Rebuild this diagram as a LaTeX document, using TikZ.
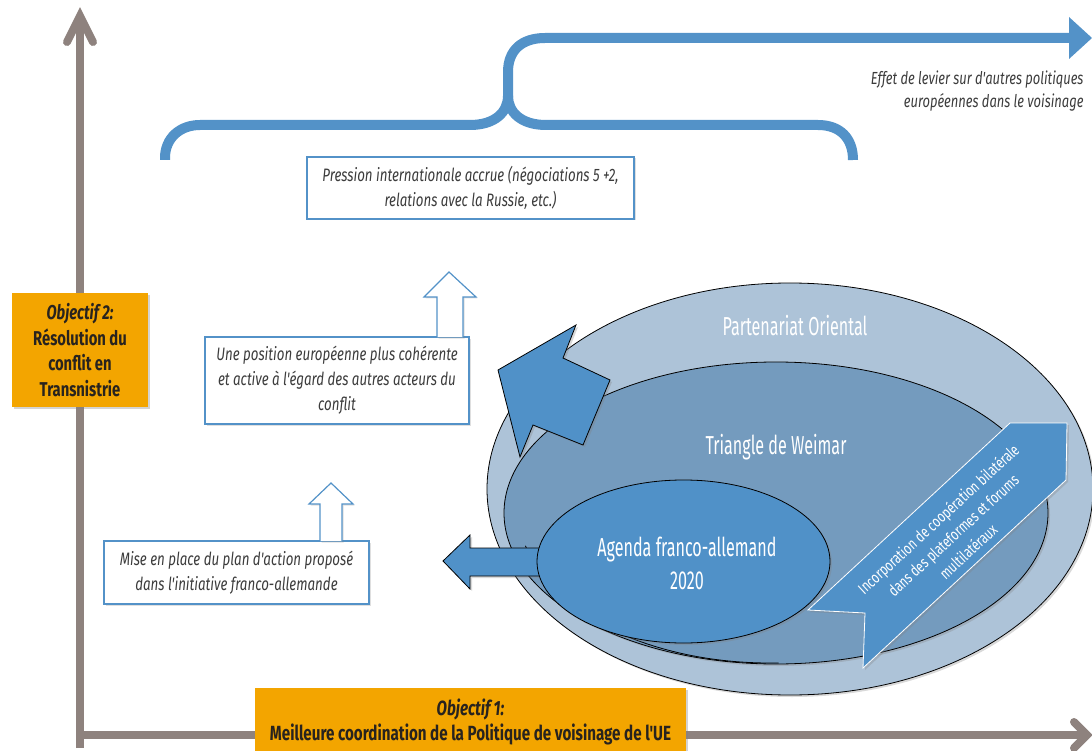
\documentclass[tikz,border=0pt]{standalone}
\usepackage{fontspec}
\setmainfont{Fira Sans}
\newfontfamily\din[FakeStretch=0.74]{Fira Sans}
\newfontfamily\dinn[FakeStretch=0.62]{Fira Sans}
\usetikzlibrary{shapes.geometric,shadows}
\definecolor{axisgrey}{RGB}{142,130,126}
\definecolor{braceblue}{RGB}{83,146,200}
\definecolor{orangebox}{RGB}{243,165,0}
\definecolor{outerell}{RGB}{173,195,216}
\definecolor{midell}{RGB}{116,155,190}
\definecolor{innerell}{RGB}{80,145,200}
\definecolor{textgrey}{RGB}{60,60,60}
\definecolor{objtext}{RGB}{40,35,30}
\begin{document}
\begin{tikzpicture}[x=1pt,y=-1pt,
  axisline/.style={axisgrey, line width=8pt, line cap=round, line join=miter},
  bracepath/.style={braceblue, line width=10pt},
  objbox/.style={fill=orangebox, text=objtext, align=center, inner sep=0pt,
     drop shadow={opacity=0.35, shadow xshift=2pt, shadow yshift=-2pt}},
  txtbox/.style={draw=braceblue, line width=2.2pt, fill=white, text=textgrey, align=center,
     inner sep=0pt, font=\din\itshape\fontsize{18}{25}\selectfont,
     drop shadow={opacity=0.25, shadow xshift=1.5pt, shadow yshift=-1.5pt}},
  hollowarrow/.style={draw=braceblue, line width=1.2pt, fill=white,
     drop shadow={opacity=0.25, shadow xshift=1.5pt, shadow yshift=-1.5pt}},
  solidarrow/.style={draw=black, line width=0.8pt, fill=innerell,
     drop shadow={opacity=0.3, shadow xshift=2pt, shadow yshift=-2pt}},
  ellbox/.style={ellipse, draw=black, line width=0.8pt, inner sep=0pt,
     drop shadow={opacity=0.3, shadow xshift=2pt, shadow yshift=-2pt}},
  elllabel/.style={text=white, font=\dinn\fontsize{26}{33}\selectfont, align=center},
]
\useasboundingbox (0,0) rectangle (1092,751);
% axes
\coordinate (origin) at (80,735);
\coordinate (ytop) at (80,16);
\coordinate (xend) at (1087,735);
\draw[axisline, line cap=butt] (80,748) -- (ytop);
\draw[axisline] (67,42) -- (ytop) -- (93,42);
\draw[axisline, line cap=butt] (origin) -- (xend);
\draw[axisline] (1074,722) -- (xend) -- (1074,748);

% brace
\coordinate (bl) at (165,160);
\coordinate (br) at (853,160);
\coordinate (bm) at (508,96);
\coordinate (btop) at (1070,38);
\draw[bracepath] (bl) -- (165,158) .. controls (165,138) and (180,125) .. (200,125)
   -- (470,125) .. controls (495,125) and (508,112) .. (bm);
\draw[bracepath] (bm) .. controls (508,112) and (521,125) .. (546,125)
   -- (818,125) .. controls (840,125) and (853,138) .. (br);
\draw[bracepath] (508,100) -- (508,72) .. controls (508,50) and (522,38) .. (545,38) -- (btop);
\fill[braceblue] (1069,17) -- (1092,38) -- (1069,59) -- cycle;
\node[anchor=east, align=right, text=textgrey, font=\din\itshape\fontsize{17.5}{23}\selectfont]
   (effet) at (1087,91) {Effet de levier sur d'autres politiques\\européennes dans le voisinage};

% objective boxes
\node[objbox, minimum width=136pt, minimum height=114pt,
      font=\din\bfseries\fontsize{20}{25.5}\selectfont] (obj2) at (80,350)
   {\textit{Objectif 2:}\\Résolution du\\conflit en\\Transnistrie};
\node[objbox, minimum width=431pt, minimum height=68pt, anchor=north,
      font=\din\bfseries\fontsize{20.5}{25}\selectfont] (obj1) at (470.5,688)
   {\textit{Objectif 1:}\\Meilleure coordination de la Politique de voisinage de l'UE};

% text boxes
\node[txtbox, minimum width=327pt, minimum height=62pt] (pression) at (470.5,188)
   {Pression internationale accrue (négociations 5 +2,\\relations avec la Russie, etc.)};
\node[txtbox, minimum width=264pt, minimum height=87pt] (position) at (337,380.5)
   {Une position européenne plus cohérente\\et active à l'égard des autres acteurs du\\conflit};
\node[txtbox, minimum width=265pt, minimum height=63pt] (miseplace) at (236.5,572.5)
   {Mise en place du plan d'action proposé\\dans l'initiative franco-allemande};

% hollow arrows
\draw[hollowarrow] (437,337) -- (437,297) -- (424,297) -- (449,272) -- (476,297) -- (463,297) -- (463,337);
\draw[hollowarrow] (320,541) -- (320,504) -- (309,504) -- (331,483) -- (353,504) -- (342,504) -- (342,541);

% ellipses
\node[ellbox, fill=outerell, minimum width=606pt, minimum height=412pt] (outer) at (790,489) {};
\node[ellbox, fill=midell, minimum width=544pt, minimum height=302pt] (middle) at (776,513) {};
\draw[line width=0.8pt] (770,515) ++(168:250 and 148) arc[start angle=168, end angle=88, x radius=250, y radius=148];
\node[elllabel] (lblpo) at (795,326) {Partenariat Oriental};
\node[elllabel] (lbltw) at (776,447) {Triangle de Weimar};

% left arrow (under agenda)
\draw[solidarrow] (443,561) -- (470,535) -- (470,548) -- (552,548) -- (552,576) -- (470,576) -- (470,589) -- cycle;

\node[ellbox, fill=innerell, minimum width=293pt, minimum height=163pt] (agenda) at (683.5,561.5) {};
\node[elllabel] (lblag) at (687,563) {Agenda franco-allemand\\2020};

% curved arrow from outer ellipse
\draw[solidarrow] (576,325) -- (498,370) -- (520,457) -- (533,425) -- (583,445) -- (610,380) -- (563,358) -- cycle;

% ribbon arrow
\draw[draw=white, line width=0.8pt, fill=innerell,
      drop shadow={opacity=0.3, shadow xshift=2pt, shadow yshift=-2pt}]
   (808,610) -- (1010,423) -- (1067,423) -- (1066,480) -- (863,668) -- (865,613) -- cycle;
\node[rotate=42.6, text=white, align=center, font=\din\fontsize{16}{22}\selectfont] (ribbon) at (953,535)
   {Incorporation de coopération bilatérale\\dans des plateformes et forums\\multilatéraux};
\end{tikzpicture}
\end{document}
